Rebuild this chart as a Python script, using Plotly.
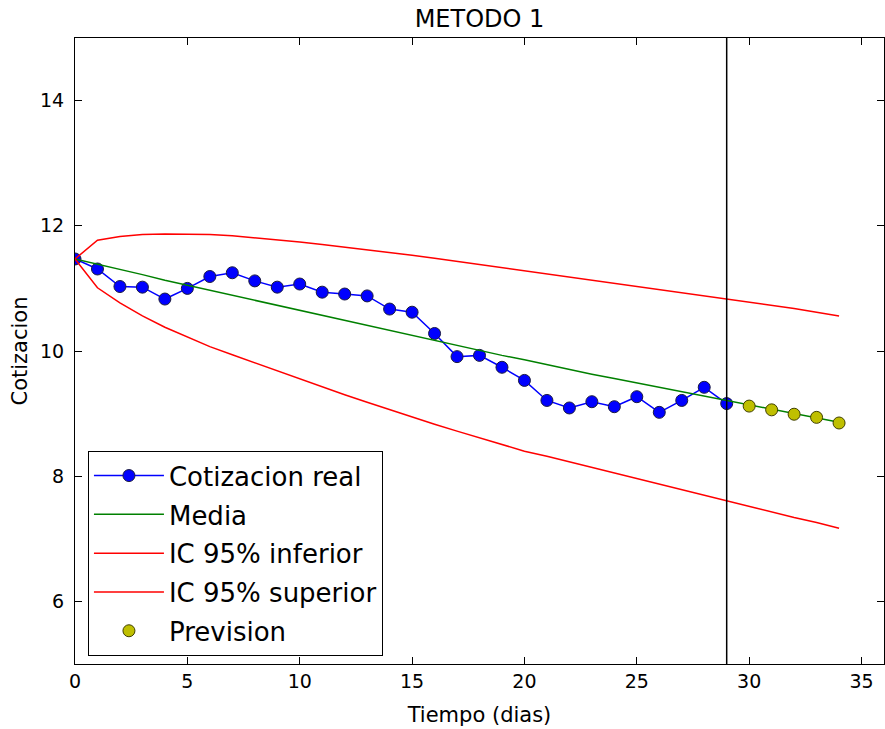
import plotly.graph_objects as go

dias_real = list(range(0, 30))
cotizacion_real = [11.47, 11.31, 11.03, 11.02, 10.83, 11.00, 11.19, 11.25, 11.12, 11.02,
                   11.07, 10.94, 10.91, 10.88, 10.67, 10.62, 10.28, 9.91, 9.93, 9.74,
                   9.53, 9.21, 9.09, 9.19, 9.11, 9.27, 9.02, 9.21, 9.42, 9.16]

dias_total = list(range(0, 35))
media = [11.47, 11.39, 11.30, 11.22, 11.13, 11.05, 10.97, 10.89, 10.81, 10.72,
         10.64, 10.56, 10.48, 10.40, 10.32, 10.24, 10.16, 10.09, 10.01, 9.93,
         9.86, 9.78, 9.71, 9.63, 9.56, 9.49, 9.42, 9.34, 9.27, 9.20,
         9.13, 9.06, 8.99, 8.92, 8.86]
ic_inferior = [11.47, 11.01, 10.77, 10.56, 10.38, 10.22, 10.07, 9.94, 9.81, 9.68,
               9.56, 9.43, 9.30, 9.18, 9.06, 8.94, 8.83, 8.72, 8.61, 8.50,
               8.40, 8.32, 8.23, 8.14, 8.05, 7.96, 7.87, 7.78, 7.69, 7.60,
               7.51, 7.43, 7.34, 7.26, 7.17]
ic_superior = [11.47, 11.77, 11.83, 11.86, 11.87, 11.87, 11.86, 11.84, 11.81, 11.78,
               11.74, 11.70, 11.66, 11.62, 11.57, 11.53, 11.48, 11.43, 11.39, 11.34,
               11.29, 11.24, 11.19, 11.14, 11.09, 11.04, 10.99, 10.94, 10.89, 10.84,
               10.79, 10.74, 10.68, 10.62, 10.56]

dias_prevision = [30, 31, 32, 33, 34]
prevision = [9.12, 9.06, 8.99, 8.94, 8.85]

corte = 29

FONT = "DejaVu Sans"

fig = go.Figure()
fig.add_trace(go.Scatter(x=dias_real, y=cotizacion_real, mode="lines+markers",
                         name="Cotizacion real", legendgroup="a",
                         line=dict(color="#0000ff", width=1.5),
                         marker=dict(color="#0000ff", size=12,
                                     line=dict(color="#1a1a40", width=1))))
fig.add_trace(go.Scatter(x=dias_total, y=media, mode="lines", name="Media",
                         legendgroup="b", line=dict(color="#008000", width=1.5)))
fig.add_trace(go.Scatter(x=dias_total, y=ic_inferior, mode="lines", name="IC 95% inferior",
                         legendgroup="c", line=dict(color="#ff0000", width=1.5)))
fig.add_trace(go.Scatter(x=dias_total, y=ic_superior, mode="lines", name="IC 95% superior",
                         legendgroup="d", line=dict(color="#ff0000", width=1.5)))
fig.add_trace(go.Scatter(x=dias_prevision, y=prevision, mode="markers", name="Prevision",
                         legendgroup="e",
                         marker=dict(color="#bfbf00", size=12,
                                     line=dict(color="#404000", width=1))))

fig.add_vline(x=corte, line=dict(color="black", width=1.5))

axis_common = dict(showgrid=False, zeroline=False, showline=True, linecolor="black",
                   linewidth=1, mirror="ticks", ticks="inside", ticklen=7,
                   tickcolor="black", tickfont=dict(family=FONT, size=19, color="black"))

fig.update_xaxes(range=[0, 36], tickvals=[0, 5, 10, 15, 20, 25, 30, 35],
                 title=dict(text="Tiempo (dias)", font=dict(family=FONT, size=21, color="black"),
                            standoff=16),
                 **axis_common)
fig.update_yaxes(range=[5, 15], tickvals=[6, 8, 10, 12, 14], ticklabelstandoff=6,
                 title=dict(text="Cotizacion", font=dict(family=FONT, size=21, color="black"),
                            standoff=6),
                 **axis_common)

fig.update_layout(
    width=885, height=729,
    margin=dict(l=75, r=1, t=38, b=65),
    paper_bgcolor="white", plot_bgcolor="white",
    title=dict(text="METODO 1", xref="paper", x=0.5, xanchor="center",
               y=1 - 19 / 729, yanchor="middle",
               font=dict(family=FONT, size=24, color="black")),
    showlegend=True,
    legend=dict(x=0.016, y=0.340, xanchor="left", yanchor="top",
                bgcolor="white", bordercolor="black", borderwidth=1,
                font=dict(family=FONT, size=26, color="black"),
                tracegroupgap=2, itemwidth=70),
)

fig.write_html("out.html", config={"displayModeBar": False},
               post_script="document.body.style.margin='0';document.body.style.overflow='hidden';")
